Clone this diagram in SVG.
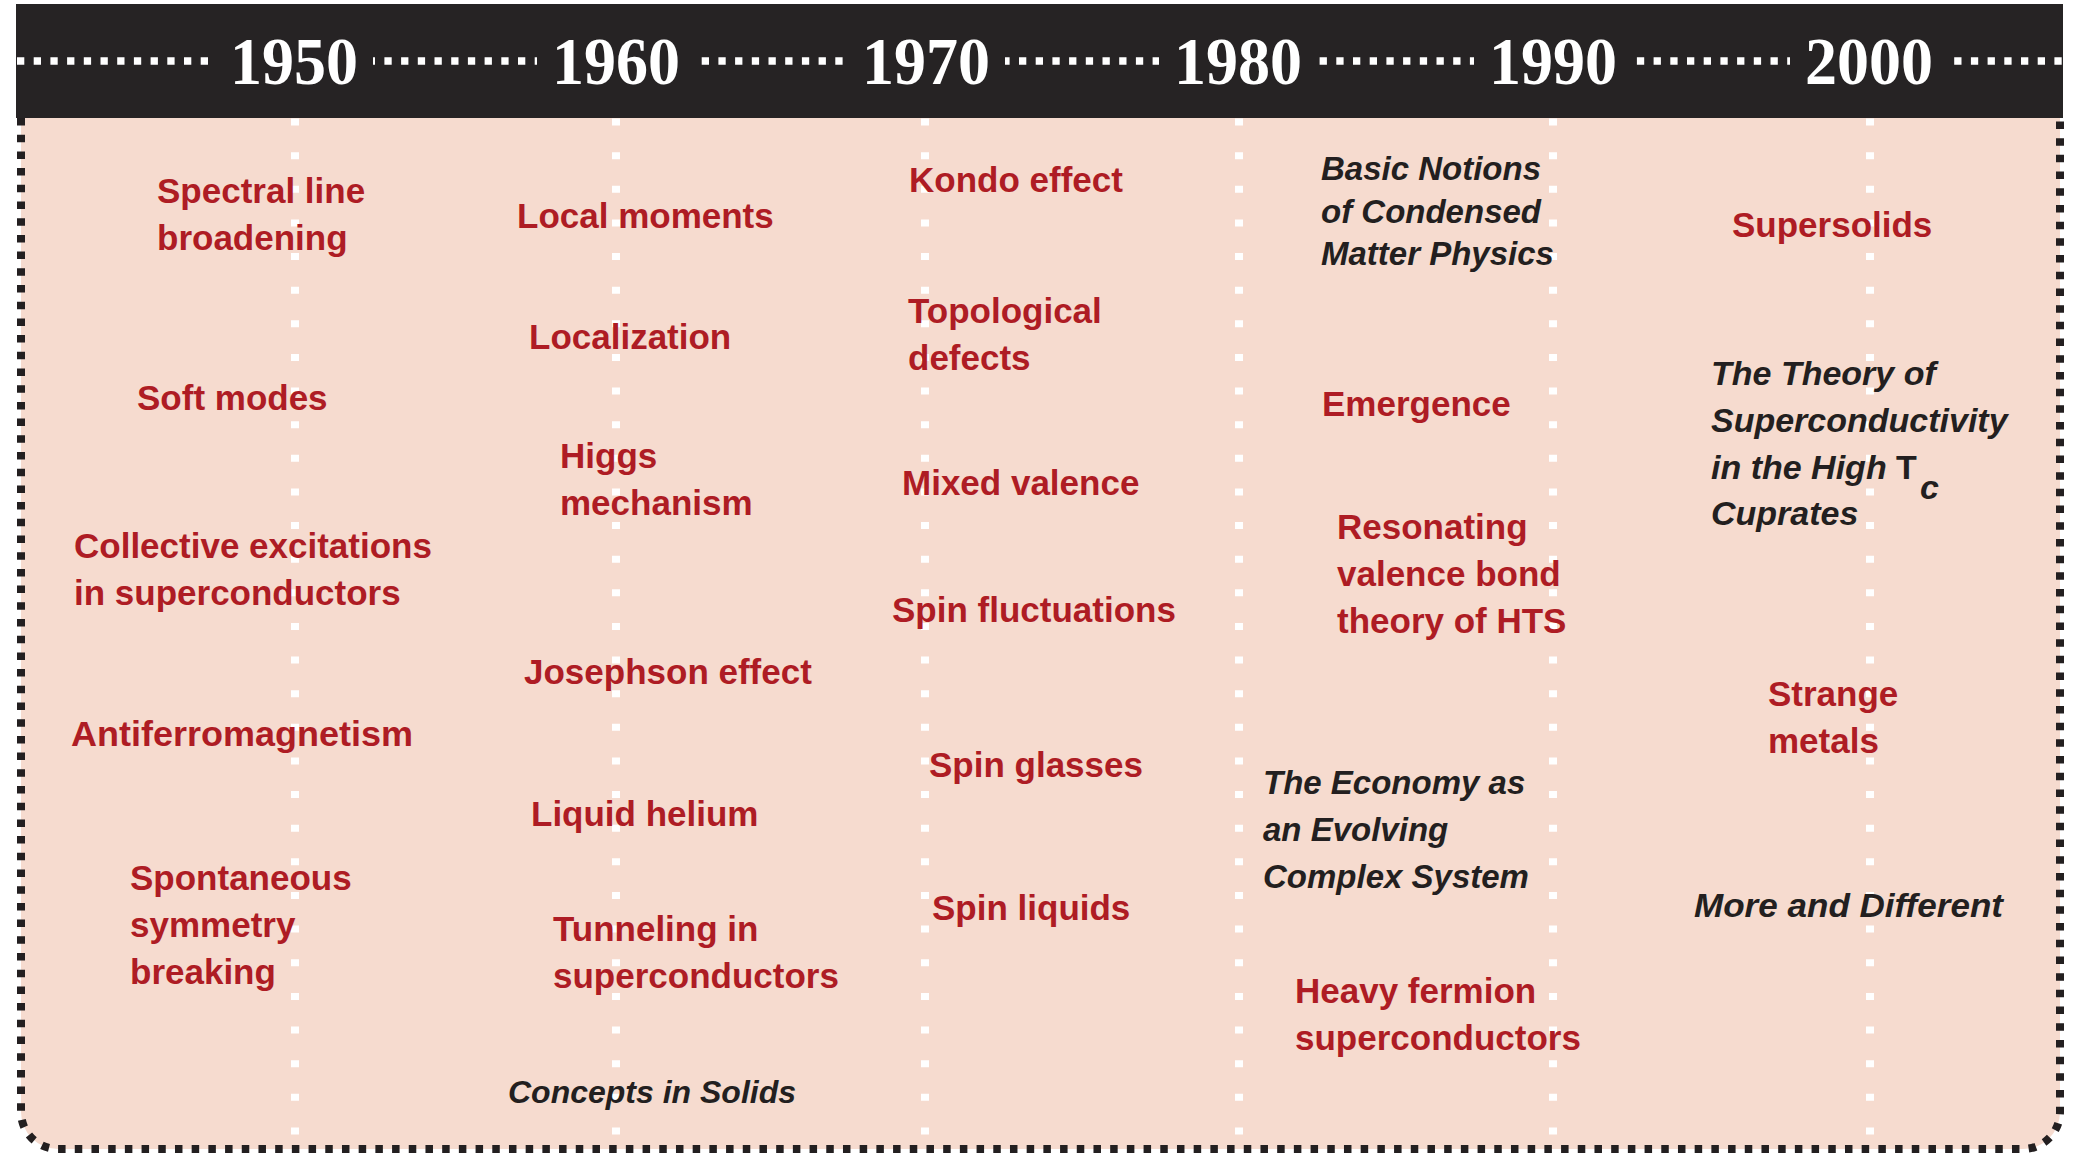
<svg xmlns="http://www.w3.org/2000/svg" width="2096" height="1176" viewBox="0 0 2096 1176">
<style>
.yr{font-family:"Liberation Serif","Times New Roman",serif;font-weight:bold;font-size:68px;fill:#ffffff;text-anchor:middle}
.r{font-family:"Liberation Sans",Arial,sans-serif;font-weight:bold;font-size:35px;fill:#ae1c24}
.b{font-family:"Liberation Sans",Arial,sans-serif;font-weight:bold;font-style:italic;font-size:33px;fill:#231f20}
.vl{stroke:#ffffff;stroke-width:8;stroke-dasharray:7 26.63;fill:none}
</style>
<rect width="2096" height="1176" fill="#ffffff"/>
<path d="M21,110 V1112 A37,37 0 0 0 58,1149 H2023 A37,37 0 0 0 2060,1112 V110 Z" fill="#f6dbcf"/>
<g id="connectors">
<line class="vl" x1="295" y1="118.5" x2="295" y2="1140"/>
<line class="vl" x1="616" y1="118.5" x2="616" y2="1140"/>
<line class="vl" x1="925" y1="118.5" x2="925" y2="1140"/>
<line class="vl" x1="1239" y1="118.5" x2="1239" y2="1140"/>
<line class="vl" x1="1553" y1="118.5" x2="1553" y2="1140"/>
<line class="vl" x1="1870" y1="118.5" x2="1870" y2="1140"/>
</g>
<path d="M21,118 V1112 A37,37 0 0 0 58,1149 H2023 A37,37 0 0 0 2060,1112 V118" fill="none" stroke="#231f20" stroke-width="8" stroke-dasharray="7.5 9.2"/>
<g id="header">
<rect x="16" y="4" width="2047" height="114" fill="#262324"/>
<line x1="17" y1="61" x2="2063" y2="61" stroke="#ffffff" stroke-width="7.5" stroke-dasharray="7.3 9.4"/>
<g fill="#262324">
<rect x="215" y="52" width="158" height="18"/>
<rect x="537" y="52" width="158" height="18"/>
<rect x="847" y="52" width="158" height="18"/>
<rect x="1159" y="52" width="158" height="18"/>
<rect x="1474" y="52" width="158" height="18"/>
<rect x="1790" y="52" width="158" height="18"/>
</g>
<text class="yr" x="294" y="84" textLength="128" lengthAdjust="spacingAndGlyphs">1950</text>
<text class="yr" x="616" y="84" textLength="128" lengthAdjust="spacingAndGlyphs">1960</text>
<text class="yr" x="926" y="84" textLength="128" lengthAdjust="spacingAndGlyphs">1970</text>
<text class="yr" x="1238" y="84" textLength="128" lengthAdjust="spacingAndGlyphs">1980</text>
<text class="yr" x="1553" y="84" textLength="128" lengthAdjust="spacingAndGlyphs">1990</text>
<text class="yr" x="1869" y="84" textLength="128" lengthAdjust="spacingAndGlyphs">2000</text>
</g>
<g id="n-spectral"><text class="r" x="157" y="203">Spectral line</text><text class="r" x="157" y="250">broadening</text></g>
<g id="n-soft"><text class="r" x="137" y="410">Soft modes</text></g>
<g id="n-collective"><text class="r" x="74" y="558">Collective excitations</text><text class="r" x="74" y="605">in superconductors</text></g>
<g id="n-afm"><text class="r" x="71" y="746" textLength="342" lengthAdjust="spacingAndGlyphs">Antiferromagnetism</text></g>
<g id="n-ssb"><text class="r" x="130" y="890">Spontaneous</text><text class="r" x="130" y="937">symmetry</text><text class="r" x="130" y="984">breaking</text></g>
<g id="n-local"><text class="r" x="517" y="228">Local moments</text></g>
<g id="n-localization"><text class="r" x="529" y="349">Localization</text></g>
<g id="n-higgs"><text class="r" x="560" y="468">Higgs</text><text class="r" x="560" y="515">mechanism</text></g>
<g id="n-josephson"><text class="r" x="524" y="684">Josephson effect</text></g>
<g id="n-helium"><text class="r" x="531" y="826">Liquid helium</text></g>
<g id="n-tunneling"><text class="r" x="553" y="941">Tunneling in</text><text class="r" x="553" y="988">superconductors</text></g>
<g id="n-concepts"><text class="b" x="508" y="1103" style="font-size:32px">Concepts in Solids</text></g>
<g id="n-kondo"><text class="r" x="909" y="192">Kondo effect</text></g>
<g id="n-topo"><text class="r" x="908" y="323">Topological</text><text class="r" x="908" y="370">defects</text></g>
<g id="n-mixed"><text class="r" x="902" y="495">Mixed valence</text></g>
<g id="n-spinfl"><text class="r" x="892" y="622">Spin fluctuations</text></g>
<g id="n-spingl"><text class="r" x="929" y="777">Spin glasses</text></g>
<g id="n-spinliq"><text class="r" x="932" y="920">Spin liquids</text></g>
<g id="n-basic"><text class="b" x="1321" y="180">Basic Notions</text><text class="b" x="1321" y="223">of Condensed</text><text class="b" x="1321" y="265">Matter Physics</text></g>
<g id="n-emergence"><text class="r" x="1322" y="416">Emergence</text></g>
<g id="n-rvb"><text class="r" x="1337" y="539">Resonating</text><text class="r" x="1337" y="586">valence bond</text><text class="r" x="1337" y="633">theory of HTS</text></g>
<g id="n-economy"><text class="b" x="1263" y="794">The Economy as</text><text class="b" x="1263" y="841">an Evolving</text><text class="b" x="1263" y="888">Complex System</text></g>
<g id="n-heavy"><text class="r" x="1295" y="1003">Heavy fermion</text><text class="r" x="1295" y="1050">superconductors</text></g>
<g id="n-supersolids"><text class="r" x="1732" y="237">Supersolids</text></g>
<g id="n-theory"><text class="b" x="1711" y="385" style="font-size:34px">The Theory of</text><text class="b" x="1711" y="432" style="font-size:34px">Superconductivity</text><text class="b" x="1711" y="479" style="font-size:34px">in the High <tspan font-style="normal">T</tspan><tspan dx="3" dy="20">c</tspan></text><text class="b" x="1711" y="525" style="font-size:34px">Cuprates</text></g>
<g id="n-strange"><text class="r" x="1768" y="706">Strange</text><text class="r" x="1768" y="753">metals</text></g>
<g id="n-more"><text class="b" x="1694" y="917" textLength="309" lengthAdjust="spacingAndGlyphs">More and Different</text></g>
</svg>
